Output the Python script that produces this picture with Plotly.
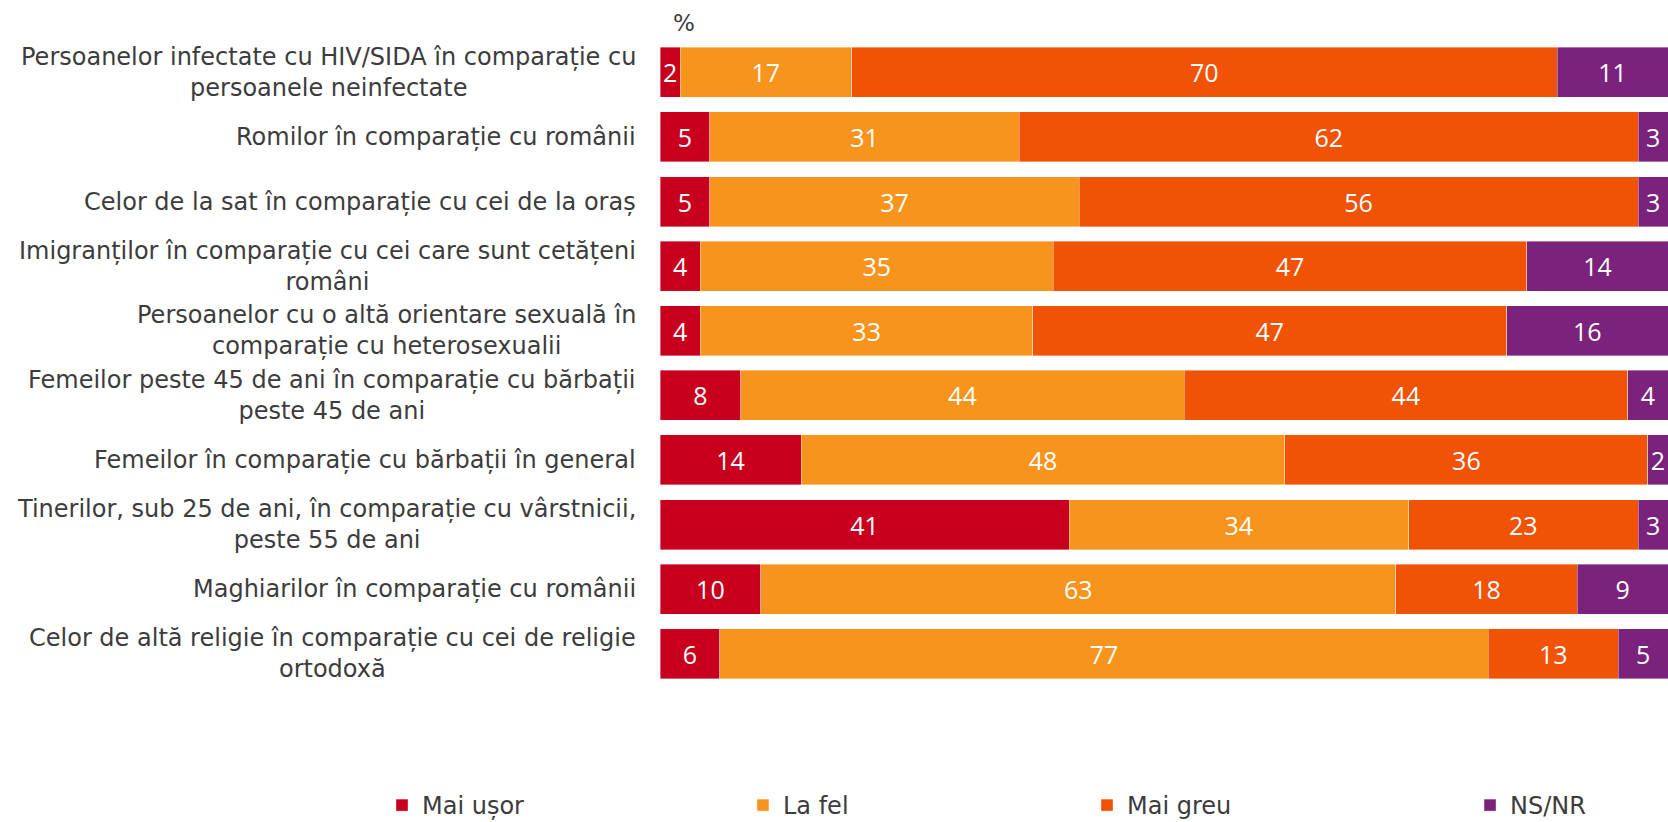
import plotly.graph_objects as go

# categories, top to bottom
categories = [
    "Persoanelor infectate cu HIV/SIDA în comparație cu<br>persoanele neinfectate",
    "Romilor în comparație cu românii",
    "Celor de la sat în comparație cu cei de la oraș",
    "Imigranților în comparație cu cei care sunt cetățeni<br>români",
    "Persoanelor cu o altă orientare sexuală în<br>comparație cu heterosexualii",
    "Femeilor peste 45 de ani în comparație cu bărbații<br>peste 45 de ani",
    "Femeilor în comparație cu bărbații în general",
    "Tinerilor, sub 25 de ani, în comparație cu vârstnicii,<br>peste 55 de ani",
    "Maghiarilor în comparație cu românii",
    "Celor de altă religie în comparație cu cei de religie<br>ortodoxă",
]

mai_usor = [2, 5, 5, 4, 4, 8, 14, 41, 10, 6]
la_fel = [17, 31, 37, 35, 33, 44, 48, 34, 63, 77]
mai_greu = [70, 62, 56, 47, 47, 44, 36, 23, 18, 13]
ns_nr = [11, 3, 3, 14, 16, 4, 2, 3, 9, 5]

series = [
    ("Mai ușor", mai_usor, "#C8001E"),
    ("La fel", la_fel, "#F7941E"),
    ("Mai greu", mai_greu, "#F05206"),
    ("NS/NR", ns_nr, "#7B227D"),
]

W, H = 1668, 822
L, R, T, B = 660, 0, 40, 136

# one small legend per series so each entry sits where the original has it
legend_x = [-0.2758, 0.0823, 0.4236, 0.8036]
legend_ids = ["legend", "legend2", "legend3", "legend4"]

fig = go.Figure()
for (name, vals, col), lid in zip(series, legend_ids):
    fig.add_trace(go.Bar(
        y=categories, x=vals, name=name, orientation="h", legend=lid,
        marker=dict(color=col, line=dict(color="rgba(255,255,255,0.5)", width=0.75)),
        text=vals, texttemplate="%{text}", textposition="inside",
        insidetextanchor="middle", constraintext="none", textangle=0,
        insidetextfont=dict(family="Open Sans", size=25, color="white"),
        hoverinfo="skip",
    ))

# category labels: right-aligned block, lines centred
for c in categories:
    fig.add_annotation(
        x=0, xref="paper", y=c, yref="y", text=c, showarrow=False,
        xanchor="right", yanchor="middle", align="center", xshift=-22,
        font=dict(family="DejaVu Sans", size=24, color="#3c3c3c"),
    )

fig.add_annotation(
    x=0.0238, xref="paper", y=1.026, yref="paper", text="%", showarrow=False,
    xanchor="center", yanchor="middle",
    font=dict(family="DejaVu Sans", size=23, color="#3c3c3c"),
)

fig.update_layout(
    width=W, height=H,
    margin=dict(l=L, r=R, t=T, b=B, pad=0, autoexpand=False),
    barmode="stack", barnorm="percent", bargap=0.226,
    plot_bgcolor="white", paper_bgcolor="white",
    xaxis=dict(range=[0, 100], visible=False, fixedrange=True),
    yaxis=dict(autorange="reversed", showticklabels=False, showgrid=False,
               zeroline=False, fixedrange=True),
    showlegend=True,
)
for lid, lx in zip(legend_ids, legend_x):
    fig.update_layout({lid: dict(
        orientation="h", x=lx, xanchor="left", y=-0.185, yanchor="middle",
        font=dict(family="DejaVu Sans", size=24, color="#3c3c3c"),
        itemclick=False, itemdoubleclick=False, bgcolor="rgba(0,0,0,0)",
    )})

fig.write_html("out.html", config={"displayModeBar": False},
               post_script="document.body.style.margin='0';")
